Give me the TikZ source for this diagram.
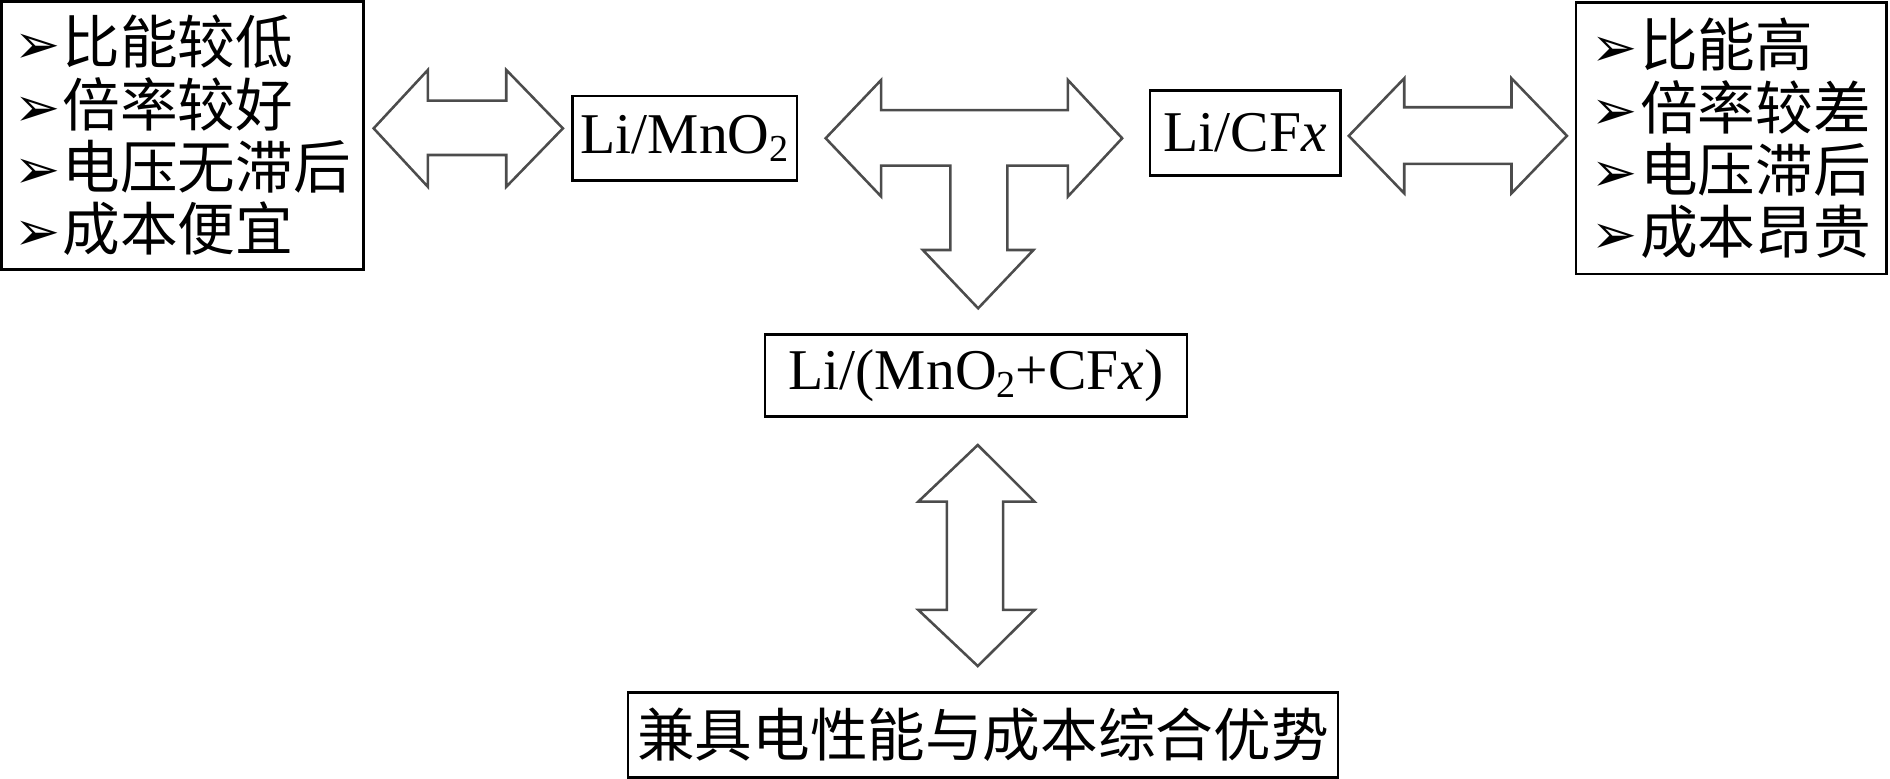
\documentclass[tikz,border=0pt]{standalone}
\usepackage{fontspec}
\setmainfont{Liberation Serif}
\newfontfamily\cjk{Noto Sans CJK SC}
\newfontfamily\arrowfont{DejaVu Sans}
\usepackage{tikz}

\newcommand{\pointer}{{\arrowfont\fontsize{13pt}{13pt}\selectfont ➢}\hspace{0.5pt}}
\newcommand{\low}[1]{\raisebox{-0.3ex}{\fontsize{9pt}{9pt}\selectfont #1}}

\tikzset{
	box/.style={draw, semithick, inner sep=0pt, font=\fontsize{13.6pt}{14.7pt}\selectfont},
	listbox/.style={box, align=left},
	blockarrow/.style={draw=black!70, line width=0.6pt, fill=white, line join=miter},
}

\begin{document}
\begin{tikzpicture}[x=0.01cm, y=-0.01cm]
	\useasboundingbox (0,0) rectangle (1568,646);

	% boxes
	\node [listbox, minimum width=3.00cm, minimum height=2.22cm] (mnolist) at (151.5,112.5)
		{\pointer\cjk 比能较低\\ \pointer\cjk 倍率较好\\ \pointer\cjk 电压无滞后\\ \pointer\cjk 成本便宜};
	\node [box, minimum width=1.86cm, minimum height=0.70cm] (mno) at (568,114.7) {Li/MnO\low{2}};
	\node [box, minimum width=1.58cm, minimum height=0.705cm] (cfx) at (1033,110.5) {Li/CF\textit{x}};
	\node [listbox, minimum width=2.575cm, minimum height=2.25cm] (cfxlist) at (1436.3,114.8)
		{\pointer\cjk 比能高\\ \pointer\cjk 倍率较差\\ \pointer\cjk 电压滞后\\ \pointer\cjk 成本昂贵};
	\node [box, minimum width=3.50cm, minimum height=0.683cm] (mix) at (809.7,311.5) {Li/(MnO\low{2}+CF\textit{x})};
	\node [box, minimum width=5.89cm, minimum height=0.706cm] (adv) at (815.5,609.7) {\cjk 兼具电性能与成本综合优势};

	% block arrows
	\draw [blockarrow] (310,106.5) -- (355,58) -- (355,83.5) -- (420,83.5) -- (420,58) -- (467,106.5)
		-- (420,155) -- (420,128.6) -- (355,128.6) -- (355,155) -- cycle;
	\draw [blockarrow] (685,114.7) -- (731,66.4) -- (731,91.3) -- (886,91.3) -- (886,66.4) -- (931,114.7)
		-- (886,163) -- (886,137.4) -- (835.7,137.4) -- (835.7,207.4) -- (857.4,207.4) -- (811.5,255.8)
		-- (765.6,207.4) -- (788.5,207.4) -- (788.5,137.4) -- (731,137.4) -- (731,163) -- cycle;
	\draw [blockarrow] (1119,112.7) -- (1165,65) -- (1165,89) -- (1254,89) -- (1254,65) -- (1300,112.7)
		-- (1254,160.4) -- (1254,136) -- (1165,136) -- (1165,160.4) -- cycle;
	\draw [blockarrow] (811.2,369.2) -- (858.3,416.2) -- (832.3,416.2) -- (832.3,506) -- (858.3,506) -- (811.2,552.6)
		-- (761.8,506) -- (785.6,506) -- (785.6,416.2) -- (761.8,416.2) -- cycle;
\end{tikzpicture}
\end{document}
